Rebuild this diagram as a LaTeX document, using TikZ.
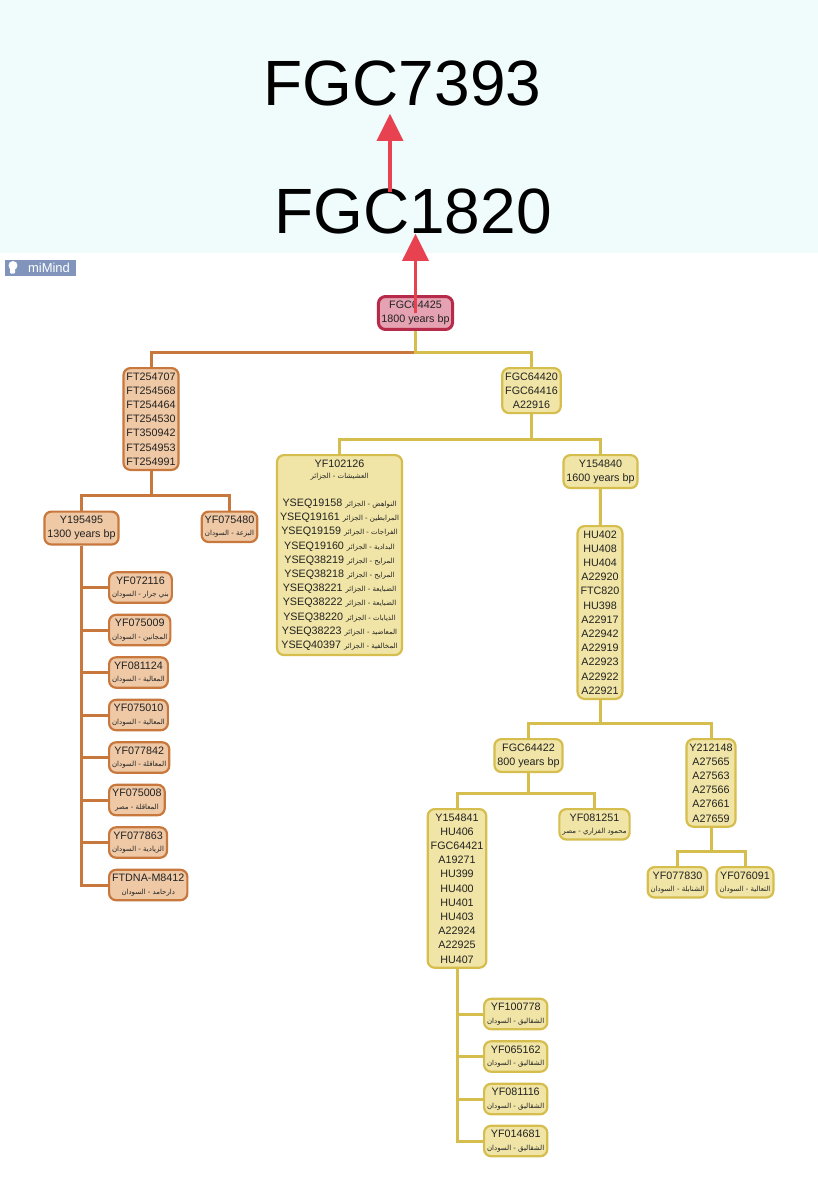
\documentclass[tikz,border=0pt]{standalone}
\usepackage{fontspec}
\setmainfont{Liberation Sans}
\newfontfamily\arabicfont[Script=Arabic]{DejaVu Sans}
\TeXXeTstate=1
\usetikzlibrary{arrows.meta,calc}

\definecolor{bannerbg}{RGB}{240,251,252}
\definecolor{badgebg}{RGB}{128,148,188}
\definecolor{arrowred}{RGB}{232,66,80}
\definecolor{rootfill}{RGB}{228,162,178}
\definecolor{rootline}{RGB}{182,42,74}
\definecolor{orafill}{RGB}{239,201,166}
\definecolor{oraline}{RGB}{200,120,60}
\definecolor{yelfill}{RGB}{240,229,166}
\definecolor{yelline}{RGB}{214,190,78}
\definecolor{inkgray}{RGB}{34,34,34}

% one line of Arabic place names
\newcommand{\arl}[1]{{\arabicfont\fontsize{7}{9}\selectfont\beginR #1\endR}}

\pgfdeclarelayer{back}
\pgfdeclarelayer{edges}
\pgfsetlayers{back,edges,main}

\begin{document}
\begin{tikzpicture}[x=1pt, y=-1pt,
    tag/.style={draw, rounded corners=7pt, line width=2.2pt, align=center, inner xsep=3pt, inner ysep=4.5pt,
      text=inkgray, font=\fontsize{10.75}{14.2}\selectfont},
    ora/.style={tag, fill=orafill, draw=oraline},
    yel/.style={tag, fill=yelfill, draw=yelline},
    oralink/.style={draw=oraline, line width=3pt},
    yellink/.style={draw=yelline, line width=3pt},
    big/.style={inner sep=0pt, anchor=base, text=black, font=\fontsize{64}{64}\selectfont},
    redarrow/.style={draw=arrowred, line width=3.5pt, -{Triangle[width=26pt,length=27pt]}}]
  \useasboundingbox (0,0) rectangle (818,1200);
  \begin{pgfonlayer}{back}
    \fill[white] (0,0) rectangle (818,1200);
    \fill[bannerbg] (0,0) rectangle (818,253);
  \end{pgfonlayer}

  % upper part of the line
  \node[big] (fgc7393) at (402.5,105) {FGC7393};
  \node[big] (fgc1820) at (413,233) {FGC1820};
  \node[fill=badgebg, text=white, minimum width=71pt, minimum height=16pt, inner sep=0pt,
        font=\fontsize{13}{13}\selectfont] (mimind) at (40.5,267.5) {\hspace{17pt}miMind};
  \fill[white] (13,265.5) circle (4.5pt);
  \fill[white, rounded corners=1pt] (10,267) rectangle (15,273.5);

  % root
  \node[tag, fill=rootfill, draw=rootline, line width=3pt] (fgc64425) at (415.5,313) {FGC64425\\1800 years bp};

  % orange branch
  \node[ora, anchor=north] (ft) at (151,367) {FT254707\\FT254568\\FT254464\\FT254530\\FT350942\\FT254953\\FT254991};
  \node[ora, anchor=north] (y195495) at (81.5,510.5) {Y195495\\1300 years bp};
  \node[ora, anchor=north] (yf075480) at (229.5,510.5) {YF075480\\[-2pt]\arl{البزعة - السودان}};
  \node[ora, anchor=west] (yf072116) at (108,587.5) {YF072116\\[-2pt]\arl{بني جرار - السودان}};
  \node[ora, anchor=west] (yf075009) at (108,630) {YF075009\\[-2pt]\arl{المجانين - السودان}};
  \node[ora, anchor=west] (yf081124) at (108,672.5) {YF081124\\[-2pt]\arl{المعالية - السودان}};
  \node[ora, anchor=west] (yf075010) at (108,715) {YF075010\\[-2pt]\arl{المعالية - السودان}};
  \node[ora, anchor=west] (yf077842) at (108,757.5) {YF077842\\[-2pt]\arl{المعاقلة - السودان}};
  \node[ora, anchor=west] (yf075008) at (108,800) {YF075008\\[-2pt]\arl{المعاقلة - مصر}};
  \node[ora, anchor=west] (yf077863) at (108,842.5) {YF077863\\[-2pt]\arl{الزيادية - السودان}};
  \node[ora, anchor=west] (ftdna) at (108,885) {FTDNA-M8412\\[-2pt]\arl{دارحامد - السودان}};

  % yellow branch
  \node[yel, anchor=north] (fgc64420) at (531.5,367) {FGC64420\\FGC64416\\A22916};
  \node[yel, anchor=north] (yf102126) at (339.5,454) {YF102126\\[-3pt]\arl{العشيشات - الجزائر}\\[14pt]
    YSEQ19158 \arl{النواهض - الجزائر}\\
    YSEQ19161 \arl{المرابطين - الجزائر}\\
    YSEQ19159 \arl{الفراجات - الجزائر}\\
    YSEQ19160 \arl{البدادية - الجزائر}\\
    YSEQ38219 \arl{المرايح - الجزائر}\\
    YSEQ38218 \arl{المرايح - الجزائر}\\
    YSEQ38221 \arl{الضبايعة - الجزائر}\\
    YSEQ38222 \arl{الضبايعة - الجزائر}\\
    YSEQ38220 \arl{الذيابات - الجزائر}\\
    YSEQ38223 \arl{المعاضيد - الجزائر}\\
    YSEQ40397 \arl{المخالفية - الجزائر}};
  \node[yel, anchor=north] (y154840) at (600.5,454) {Y154840\\1600 years bp};
  \node[yel, anchor=north] (hu) at (600,525) {HU402\\HU408\\HU404\\A22920\\FTC820\\HU398\\A22917\\A22942\\A22919\\A22923\\A22922\\A22921};
  \node[yel, anchor=north] (fgc64422) at (528.5,738) {FGC64422\\800 years bp};
  \node[yel, anchor=north] (y212148) at (711,738) {Y212148\\A27565\\A27563\\A27566\\A27661\\A27659};
  \node[yel, anchor=north] (y154841) at (457,808) {Y154841\\HU406\\FGC64421\\A19271\\HU399\\HU400\\HU401\\HU403\\A22924\\A22925\\HU407};
  \node[yel, anchor=north] (yf081251) at (594.5,808) {YF081251\\[-2pt]\arl{محمود الفزاري - مصر}};
  \node[yel, anchor=north] (yf077830) at (677.5,866) {YF077830\\[-2pt]\arl{الشنابلة - السودان}};
  \node[yel, anchor=north] (yf076091) at (745,866) {YF076091\\[-2pt]\arl{التعالية - السودان}};
  \node[yel, anchor=west] (yf100778) at (483,1014) {YF100778\\[-2pt]\arl{الشقاليق - السودان}};
  \node[yel, anchor=west] (yf065162) at (483,1056.5) {YF065162\\[-2pt]\arl{الشقاليق - السودان}};
  \node[yel, anchor=west] (yf081116) at (483,1099) {YF081116\\[-2pt]\arl{الشقاليق - السودان}};
  \node[yel, anchor=west] (yf014681) at (483,1141) {YF014681\\[-2pt]\arl{الشقاليق - السودان}};

  % connectors, behind the boxes
  \begin{pgfonlayer}{edges}
    \draw[oralink] (fgc64425.south) |- ($(ft.north)+(0,-15)$) -- (ft.north);
    \draw[yellink] (fgc64425.south) |- ($(fgc64420.north)+(0,-15)$) -- (fgc64420.north);
    \draw[oralink] (ft.south) |- ($(y195495.north)+(0,-15)$) -- (y195495.north);
    \draw[oralink] (ft.south) |- ($(yf075480.north)+(0,-15)$) -- (yf075480.north);
    \draw[oralink] (y195495.south) |- (yf072116.west);
    \draw[oralink] (y195495.south) |- (yf075009.west);
    \draw[oralink] (y195495.south) |- (yf081124.west);
    \draw[oralink] (y195495.south) |- (yf075010.west);
    \draw[oralink] (y195495.south) |- (yf077842.west);
    \draw[oralink] (y195495.south) |- (yf075008.west);
    \draw[oralink] (y195495.south) |- (yf077863.west);
    \draw[oralink] (y195495.south) |- (ftdna.west);
    \draw[yellink] (fgc64420.south) |- ($(yf102126.north)+(0,-15)$) -- (yf102126.north);
    \draw[yellink] (fgc64420.south) |- ($(y154840.north)+(0,-15)$) -- (y154840.north);
    \draw[yellink] (y154840) -- (hu);
    \draw[yellink] (hu.south) |- ($(fgc64422.north)+(0,-15)$) -- (fgc64422.north);
    \draw[yellink] (hu.south) |- ($(y212148.north)+(0,-15)$) -- (y212148.north);
    \draw[yellink] (fgc64422.south) |- ($(y154841.north)+(0,-15)$) -- (y154841.north);
    \draw[yellink] (fgc64422.south) |- ($(yf081251.north)+(0,-15)$) -- (yf081251.north);
    \draw[yellink] (y212148.south) |- ($(yf077830.north)+(0,-15)$) -- (yf077830.north);
    \draw[yellink] (y212148.south) |- ($(yf076091.north)+(0,-15)$) -- (yf076091.north);
    \draw[yellink] (y154841.south) |- (yf100778.west);
    \draw[yellink] (y154841.south) |- (yf065162.west);
    \draw[yellink] (y154841.south) |- (yf081116.west);
    \draw[yellink] (y154841.south) |- (yf014681.west);
  \end{pgfonlayer}

  % red arrows on top
  \coordinate (tail) at (390,192);
  \draw[redarrow] (tail) -- ($(tail |- fgc7393.south)+(0,8)$);
  \draw[redarrow] (fgc64425.center) -- (fgc64425.center |- fgc1820.south);
\end{tikzpicture}
\end{document}
